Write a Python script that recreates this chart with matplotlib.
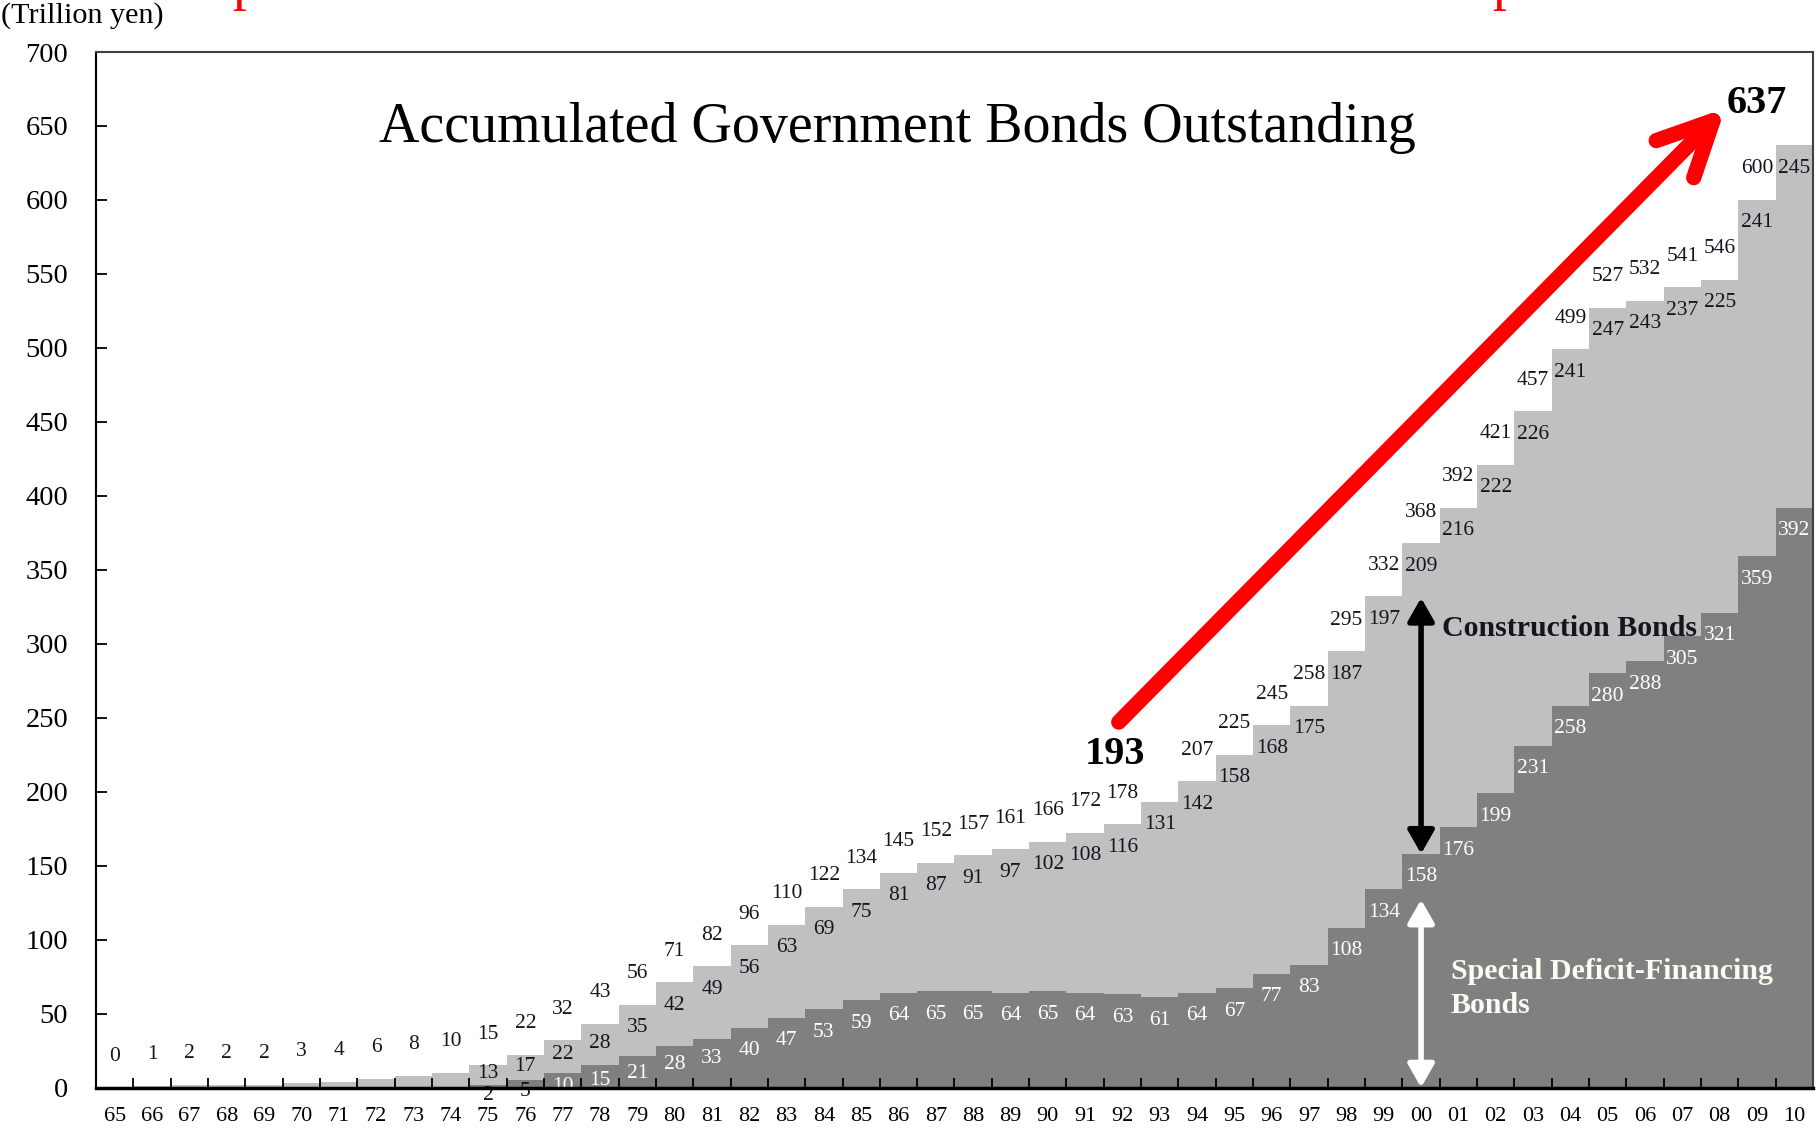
import numpy as np
import matplotlib.pyplot as plt
from matplotlib.patches import FancyArrowPatch

plt.rcParams['font.family'] = ['Liberation Serif', 'DejaVu Serif']

# fiscal years 1965-2010, trillion yen
years = list(range(1965, 2011))
total = [0, 1, 2, 2, 2, 3, 4, 6, 8, 10,
         15, 22, 32, 43, 56, 71, 82, 96, 110, 122,
         134, 145, 152, 157, 161, 166, 172, 178, 193, 207,
         225, 245, 258, 295, 332, 368, 392, 421, 457, 499,
         527, 532, 541, 546, 600, 637]

# split into the two bond types from 1975 on
split_years = list(range(1975, 2011))
construction = [13, 17, 22, 28, 35, 42, 49, 56, 63, 69,
                75, 81, 87, 91, 97, 102, 108, 116, 131, 142,
                158, 168, 175, 187, 197, 209, 216, 222, 226, 241,
                247, 243, 237, 225, 241, 245]
deficit = [2, 5, 10, 15, 21, 28, 33, 40, 47, 53,
           59, 64, 65, 65, 64, 65, 64, 63, 61, 64,
           67, 77, 83, 108, 134, 158, 176, 199, 231, 258,
           280, 288, 305, 321, 359, 392]

LIGHT = '#c0c0c0'
DARK = '#808080'
INK = '#15151f'

x = np.arange(len(years))
xs = np.array([years.index(y) for y in split_years])
i93 = years.index(1993)
i00 = years.index(2000)
i10 = years.index(2010)

fig = plt.figure(figsize=(18.16, 11.30), dpi=100)
ax = fig.add_axes([96 / 1816, 42.5 / 1130, 1717 / 1816, 1035.5 / 1130])

# stacked step areas: total in light grey, deficit-financing part on top in dark grey
ax.stairs(total, np.append(x, x[-1] + 1) - 0.5, fill=True, color=LIGHT, lw=0)
ax.stairs(deficit, np.append(xs, xs[-1] + 1) - 0.5, fill=True, color=DARK, lw=0)

ax.set_xlim(-0.5, len(years) - 0.5)
ax.set_ylim(0, 700)

# value labels
lab = dict(ha='center', va='center', fontsize=15.5)
for i, t in zip(x, total):
    if i in (i93, i10):
        continue
    ax.text(i, t + 21, str(t), color=INK, **lab)
for i, c, d in zip(xs, construction, deficit):
    t = total[i]
    yc = max(t - 15.5, (t + d) / 2 + 1)
    ax.text(i, yc, str(c), color=INK, **lab)
    yd = max(d - 15.5, 0.8 * d - 7)
    ax.text(i, yd, str(d), color='white' if yd > 0 else INK, clip_on=False, zorder=1, **lab)

# highlighted totals and the red growth arrow
big = dict(ha='center', va='center', fontsize=29, fontweight='bold', color='black')
ax.text(i93 - 1.2, total[i93] + 32, str(total[i93]), **big)
ax.text(i10 - 1.0, total[i10] + 28, str(total[i10]), **big)
ax.add_patch(FancyArrowPatch((i93 - 1.1, total[i93] + 54), (i10 - 1.85, total[i10] + 25),
                             arrowstyle='->,head_length=39,head_width=19', mutation_scale=1,
                             shrinkA=0, shrinkB=0,
                             color='red', lw=11, capstyle='round', joinstyle='round', zorder=5))

# bracket arrows for the two bond types
ax.add_patch(FancyArrowPatch((i00, deficit[split_years.index(2000)]), (i00, 331),
                             arrowstyle='<|-|>,head_length=14,head_width=8', mutation_scale=1,
                             color='black', lw=4, shrinkA=0, shrinkB=0, zorder=5))
ax.add_patch(FancyArrowPatch((i00, 0), (i00, 127),
                             arrowstyle='<|-|>,head_length=14,head_width=8', mutation_scale=1,
                             color='white', lw=4, shrinkA=0, shrinkB=0, zorder=5))
ax.text(i00 + 0.56, 310, 'Construction Bonds', ha='left', va='center',
        fontsize=21.5, fontweight='bold', color=INK)
ax.text(i00 + 0.8, 67, 'Special Deficit-Financing\nBonds', ha='left', va='center',
        fontsize=21.5, fontweight='bold', color='#fbfbf3', linespacing=1.35)

ax.text(0.4665, 0.927, 'Accumulated Government Bonds Outstanding', transform=ax.transAxes,
        ha='center', va='center', fontsize=40.3, color='black')

# axes styling
ax.set_yticks(np.arange(0, 701, 50))
ax.tick_params(axis='y', direction='in', length=8, width=1.3, pad=20, labelsize=20.5)
ax.set_xticks(x[:-1] + 0.5)
ax.set_xticklabels([])
ax.set_xticks(x, minor=True)
ax.set_xticklabels([f'{y % 100:02d}' for y in years], minor=True)
ax.tick_params(axis='x', which='major', direction='in', length=7, width=1.3)
ax.tick_params(axis='x', which='minor', length=0, pad=14, labelsize=16)
ax.spines['left'].set_linewidth(1.5)
ax.spines['bottom'].set_linewidth(2.5)
for s in ('top', 'right'):
    ax.spines[s].set_linewidth(1.5)
    ax.spines[s].set_color('#404040')

fig.text(1 / 1816, 1 - 16 / 1130, '(Trillion yen)', ha='left', va='center', fontsize=21.7)
# red heading above the frame, only its descenders fall inside the canvas
for px in (232, 1492):
    fig.text(px / 1816, 1.0 + 1 / 1130, 'p', ha='left', va='baseline', fontsize=40, color='red')

fig.savefig('out.png', dpi=100)
